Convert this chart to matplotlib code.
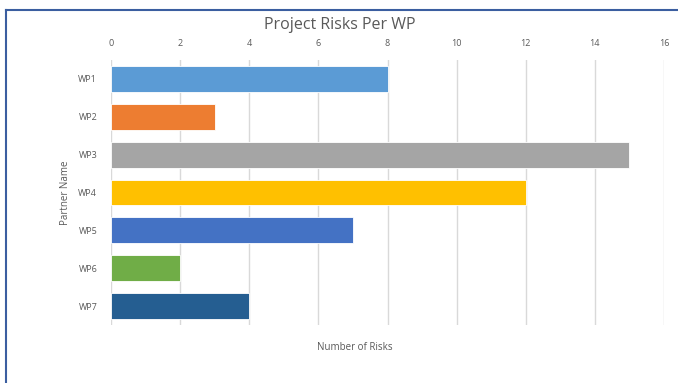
import matplotlib.pyplot as plt
from matplotlib.lines import Line2D

# risk counts per work package
packages = ['WP1', 'WP2', 'WP3', 'WP4', 'WP5', 'WP6', 'WP7']
risks = [8, 3, 15, 12, 7, 2, 4]
bar_colors = ['#5B9BD5', '#ED7D31', '#A5A5A5', '#FFC000', '#4472C4', '#70AD47', '#255E91']
x_ticks = [0, 2, 4, 6, 8, 10, 12, 14, 16]

plt.rcParams['font.family'] = ['Open Sans', 'DejaVu Sans']

W, H = 678, 383
fig = plt.figure(figsize=(W / 100, H / 100), dpi=100)
ax = fig.add_axes([111 / W, 1 - 325 / H, (664 - 111) / W, (325 - 60) / H])

ypos = list(range(len(packages)))
ax.barh(ypos, risks, height=0.68, color=bar_colors, edgecolor='white', linewidth=0.6, zorder=3)

ax.set_xlim(0, 16)
ax.set_ylim(len(packages) - 0.5, -0.5)
ax.set_xticks(x_ticks)
ax.set_yticks(ypos)
ax.set_yticklabels(packages)
ax.xaxis.tick_top()
ax.tick_params(axis='both', length=0, labelsize=6.5, colors='#595959')
ax.tick_params(axis='x', pad=9)
ax.tick_params(axis='y', pad=10)
ax.grid(axis='x', color='#D9D9D9', linewidth=1.0, zorder=0)
for s in ax.spines.values():
    s.set_visible(False)

fig.text(355 / W, 1 - 347 / H, 'Number of Risks', ha='center', va='center', fontsize=7, color='#595959')
fig.text(66 / W, 1 - 193 / H, 'Partner Name', ha='center', va='center', rotation=90, fontsize=7, color='#595959')
fig.text(340 / W, 1 - 25 / H, 'Project Risks Per WP', ha='center', va='center', fontsize=11.5, color='#595959')

# chart frame, top and left edges visible
fig.add_artist(Line2D([5.5 / W, 1.0], [1 - 10 / H, 1 - 10 / H], color='#3B5EA0', linewidth=1.5))
fig.add_artist(Line2D([5.5 / W, 5.5 / W], [0.0, 1 - 10 / H], color='#3B5EA0', linewidth=1.5))

fig.savefig('out.png', dpi=100)
